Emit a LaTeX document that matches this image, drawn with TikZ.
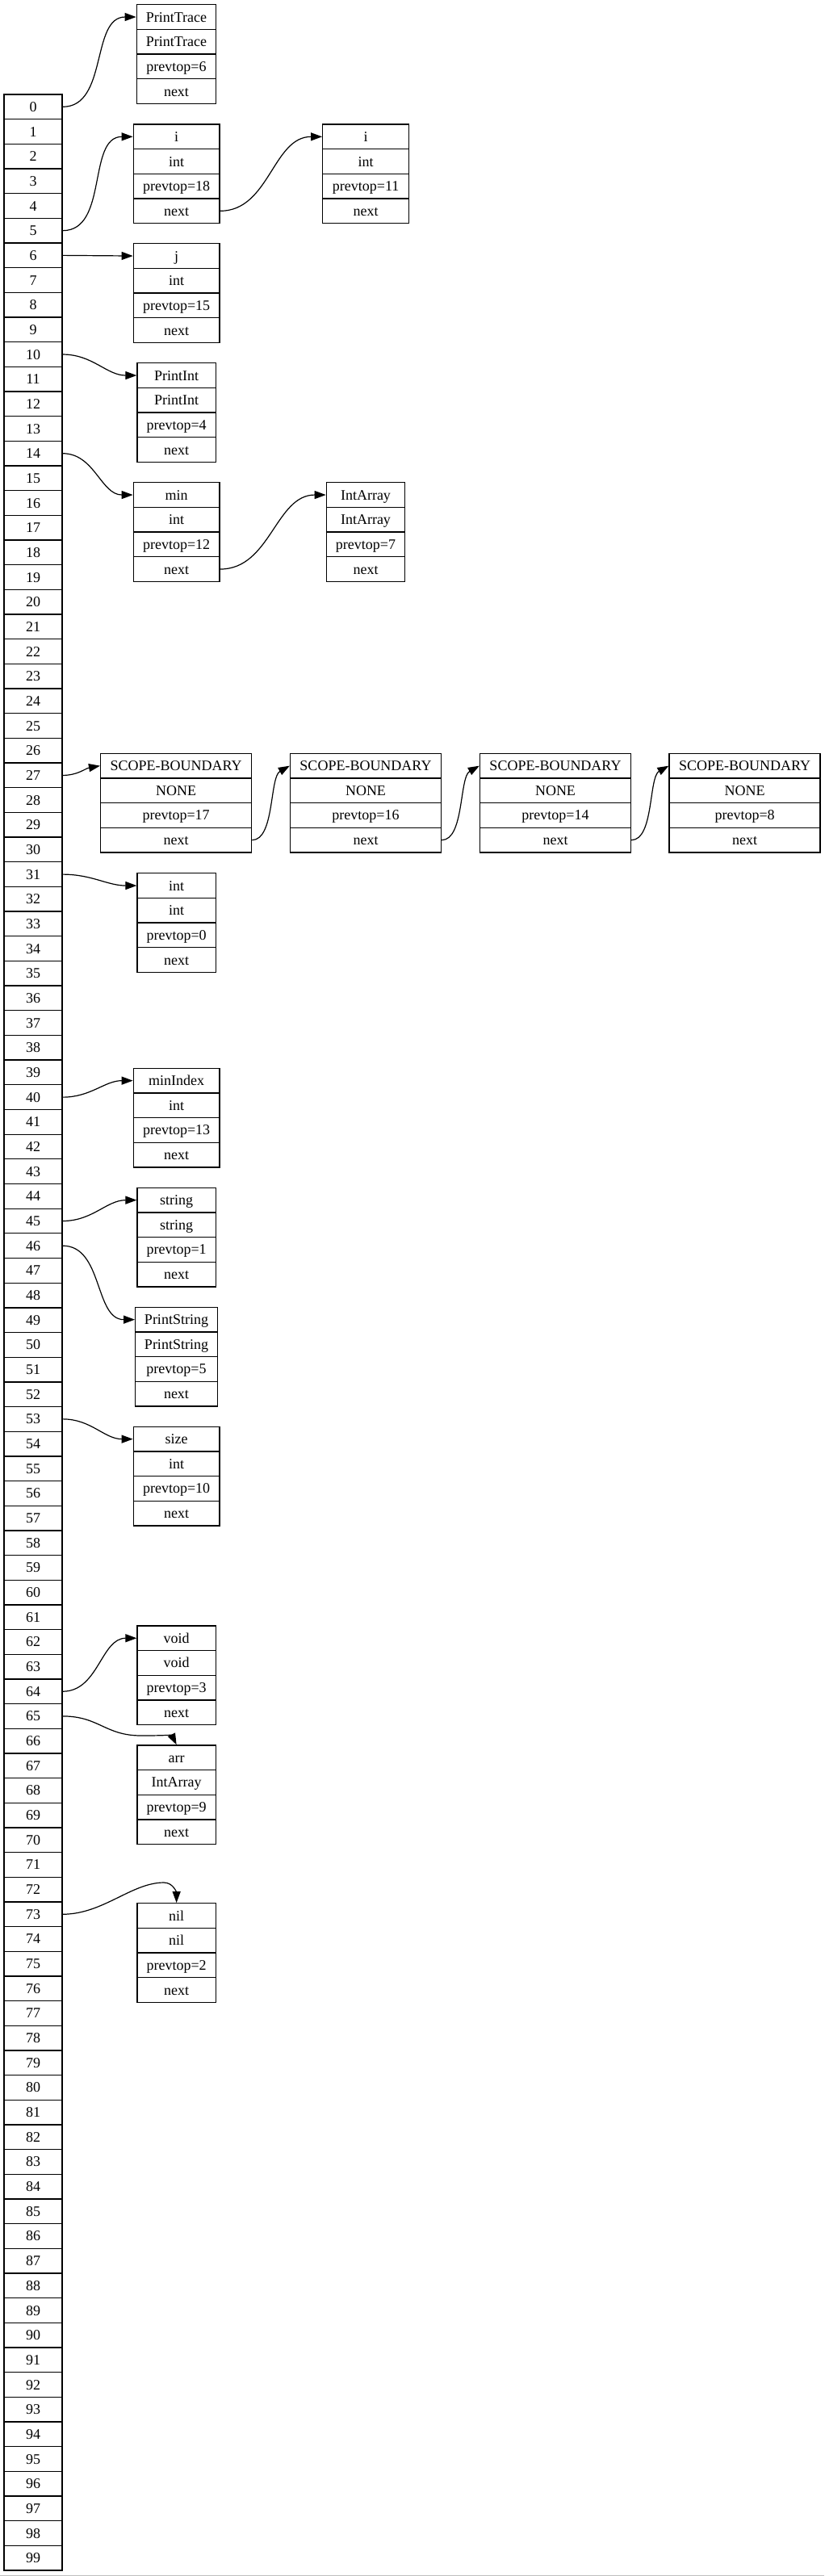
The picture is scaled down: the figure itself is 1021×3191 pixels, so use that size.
\documentclass[tikz,border=0pt]{standalone}
\usepackage{fontspec}
\setmainfont{Liberation Serif}
\usetikzlibrary{arrows.meta}
\tikzset{
  cell/.style={draw=black, line width=1.3pt, minimum height=30.67pt, inner sep=0pt,
    text height=12pt, text depth=0pt, font=\fontsize{18}{21}\selectfont, anchor=center},
  link/.style={line width=1.2pt, -{Triangle[length=14pt,width=10pt]}},
}
\newcommand\symrec[8]{%
  \node[cell,minimum width=#4pt] (#1-1) at (#2,{#3+15.335}) {#5};
  \node[cell,minimum width=#4pt] (#1-2) at (#2,{#3+46.005}) {#6};
  \node[cell,minimum width=#4pt] (#1-3) at (#2,{#3+76.675}) {#7};
  \node[cell,minimum width=#4pt] (#1-4) at (#2,{#3+107.345}) {#8};
}
\begin{document}
\begin{tikzpicture}[x=1pt,y=-1pt]
\useasboundingbox (0,0) rectangle (1021,3191);
\foreach \i in {0,...,99} {
  \node[cell, minimum width=72pt] (r\i) at (41,{117+(\i+0.5)*30.67}) {\i};
}
\symrec{pt}{218.5}{5.7}{98.4}{PrintTrace}{PrintTrace}{prevtop=6}{next}
\symrec{ia}{218.65}{154}{106.7}{i}{int}{prevtop=18}{next}
\symrec{ib}{453.2}{154}{107}{i}{int}{prevtop=11}{next}
\symrec{j}{218.65}{301.7}{106.7}{j}{int}{prevtop=15}{next}
\symrec{pi}{218.65}{449.7}{97.3}{PrintInt}{PrintInt}{prevtop=4}{next}
\symrec{mn}{218.65}{597.7}{106.7}{min}{int}{prevtop=12}{next}
\symrec{iar}{453}{597.7}{97.3}{IntArray}{IntArray}{prevtop=7}{next}
\symrec{sa}{218.1}{933.3}{187}{SCOPE-BOUNDARY}{NONE}{prevtop=17}{next}
\symrec{sb}{453}{933.3}{187}{SCOPE-BOUNDARY}{NONE}{prevtop=16}{next}
\symrec{sc}{688}{933.3}{187}{SCOPE-BOUNDARY}{NONE}{prevtop=14}{next}
\symrec{sd}{922.6}{933.3}{187}{SCOPE-BOUNDARY}{NONE}{prevtop=8}{next}
\symrec{in}{218.65}{1081.7}{97.3}{int}{int}{prevtop=0}{next}
\symrec{mi}{218.65}{1323.3}{106.7}{minIndex}{int}{prevtop=13}{next}
\symrec{st}{218.65}{1471.3}{97.3}{string}{string}{prevtop=1}{next}
\symrec{ps}{218.5}{1619.3}{101.6}{PrintString}{PrintString}{prevtop=5}{next}
\symrec{sz}{218.65}{1767.3}{106.7}{size}{int}{prevtop=10}{next}
\symrec{vd}{218.65}{2013.9}{97.3}{void}{void}{prevtop=3}{next}
\symrec{ar}{218.65}{2161.9}{97.3}{arr}{IntArray}{prevtop=9}{next}
\symrec{nl}{218.65}{2357.7}{97.3}{nil}{nil}{prevtop=2}{next}

\draw[link] (r0.east) to[out=0,in=180] (pt-1.west);
\draw[link] (r5.east) to[out=0,in=180] (ia-1.west);
\draw[link] (ia-4.east) to[out=0,in=180] (ib-1.west);
\draw[link] (r6.east) -- (j-1.west);
\draw[link] (r10.east) to[out=0,in=180] (pi-1.west);
\draw[link] (r14.east) to[out=0,in=180] (mn-1.west);
\draw[link] (mn-4.east) to[out=0,in=180] (iar-1.west);
\draw[link] (r27.east) to[out=0,in=190] (sa-1.west);
\draw[link] (sa-4.east) .. controls +(28,0) and +(-25,14) .. (sb-1.west);
\draw[link] (sb-4.east) .. controls +(28,0) and +(-25,14) .. (sc-1.west);
\draw[link] (sc-4.east) .. controls +(28,0) and +(-25,14) .. (sd-1.west);
\draw[link] (r31.east) to[out=0,in=180] (in-1.west);
\draw[link] (r40.east) to[out=0,in=180] (mi-1.west);
\draw[link] (r45.east) to[out=0,in=180] (st-1.west);
\draw[link] (r46.east) to[out=0,in=180] (ps-1.west);
\draw[link] (r53.east) to[out=0,in=180] (sz-1.west);
\draw[link] (r64.east) to[out=0,in=180] (vd-1.west);
\draw[link] (r65.east) .. controls +(45,0) and +(-45,0) .. (175,2150) .. controls +(25,0) and +(-6,-12) .. (ar-1.north);
\draw[link] (r73.east) .. controls +(50,0) and +(-40,0) .. (203,2332) .. controls +(12,0) and +(0,-12) .. (nl-1.north);

\draw[gray!50, line width=1pt] (0,3190) -- (1021,3190);
\end{tikzpicture}
\end{document}
